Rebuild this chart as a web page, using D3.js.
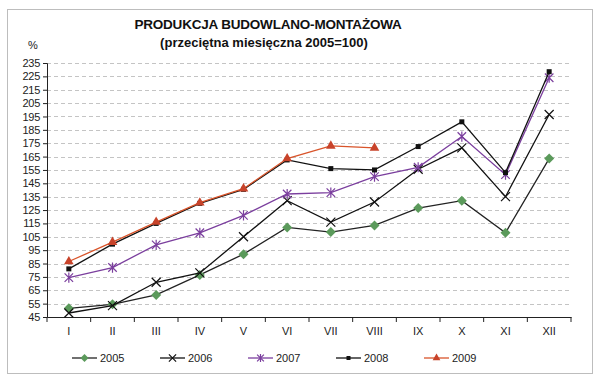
<!DOCTYPE html>
<head>
    <meta charset="utf-8">
    <style>
        body { margin: 0; background: #fff; }
        text { font-family: "Liberation Sans", Arial, sans-serif; }
    </style>
    <script src="https://d3js.org/d3.v7.min.js"></script>
</head>
<body>
<div id="chart"></div>
<script>
    // dane
    const months = ["I", "II", "III", "IV", "V", "VI", "VII", "VIII", "IX", "X", "XI", "XII"];
    const y2005 = [51.5, 54.5, 61.5, 76.5, 92, 112, 108.5, 113.5, 126.5, 132, 108, 163.5];
    const y2006 = [48, 53.5, 71, 78, 105, 132, 116, 131, 155.5, 171.5, 135, 196.5];
    const y2007 = [74.5, 82, 99, 108, 121, 137, 138, 150, 157, 180, 151.5, 224];
    const y2008 = [81, 99.5, 115, 130, 140.5, 162.5, 156, 155, 172.5, 191, 153, 228.5];
    const y2009 = [86.5, 101, 116, 130.5, 141, 163.5, 173, 171.5];
    const yTicks = d3.range(45, 236, 10);

    const series = [
        { name: "2005", values: y2005, line: "#222", color: "#5b9a5b", marker: "diamond" },
        { name: "2006", values: y2006, line: "#111", color: "#111", marker: "cross" },
        { name: "2007", values: y2007, line: "#7b3f9e", color: "#7b3f9e", marker: "star" },
        { name: "2008", values: y2008, line: "#111", color: "#111", marker: "square" },
        { name: "2009", values: y2009, line: "#d9542a", color: "#c8432a", marker: "triangle" }
    ];

    const width = 600, height = 379;
    const margin = { left: 47, right: 29, top: 63, bottom: 62 };

    const svg = d3.select("#chart").append("svg")
        .attr("width", width)
        .attr("height", height);

    svg.append("rect")
        .attr("x", 7.5).attr("y", 9.5)
        .attr("width", 585).attr("height", 364)
        .attr("fill", "#fff")
        .attr("stroke", "#bdbdbd");

    const x = d3.scaleBand()
        .domain(months)
        .range([margin.left, width - margin.right]);

    const y = d3.scaleLinear()
        .domain([45, 235])
        .range([height - margin.bottom, margin.top]);

    // siatka
    svg.append("g")
        .selectAll("line")
        .data(yTicks.slice(1))
        .join("line")
        .attr("x1", margin.left)
        .attr("x2", width - margin.right)
        .attr("y1", d => Math.round(y(d)) + 0.5)
        .attr("y2", d => Math.round(y(d)) + 0.5)
        .attr("stroke", "#c4c4c4")
        .attr("stroke-dasharray", "4,3");

    // oś Y
    const yAxis = svg.append("g")
        .attr("transform", `translate(${margin.left},0)`)
        .call(d3.axisLeft(y).tickValues(yTicks).tickSize(4).tickPadding(3));
    yAxis.select(".domain").attr("stroke", "#222");
    yAxis.selectAll(".tick line").attr("stroke", "#222");
    yAxis.selectAll("text")
        .style("font-family", "Liberation Sans, Arial, sans-serif")
        .style("font-size", "11px")
        .style("letter-spacing", "-0.3px")
        .attr("fill", "#222");

    // oś X
    const xAxis = svg.append("g")
        .attr("transform", `translate(0,${height - margin.bottom})`)
        .call(d3.axisBottom(x).tickSize(0).tickPadding(10));
    xAxis.select(".domain").attr("stroke", "#222");
    xAxis.selectAll("text")
        .style("font-family", "Liberation Sans, Arial, sans-serif")
        .style("font-size", "11px")
        .attr("fill", "#222");

    const bounds = months.map(m => x(m)).concat([width - margin.right]);
    xAxis.selectAll(".sep")
        .data(bounds)
        .join("line")
        .attr("class", "sep")
        .attr("x1", d => d).attr("x2", d => d)
        .attr("y1", 0).attr("y2", 5)
        .attr("stroke", "#222");

    // znaczniki
    function drawMarker(g, type, color, s) {
        if (type === "diamond") {
            g.append("path")
                .attr("d", `M0,${-s}L${s},0L0,${s}L${-s},0Z`)
                .attr("fill", color);
        } else if (type === "square") {
            const h = s * 0.5;
            g.append("rect")
                .attr("x", -h).attr("y", -h).attr("width", 2 * h).attr("height", 2 * h)
                .attr("fill", color);
        } else if (type === "triangle") {
            g.append("path")
                .attr("d", d3.symbol(d3.symbolTriangle, s * s * 1.6)())
                .attr("fill", color);
        } else if (type === "cross") {
            const r = s * 0.9;
            g.append("path")
                .attr("d", `M${-r},${-r}L${r},${r}M${-r},${r}L${r},${-r}`)
                .attr("stroke", color).attr("stroke-width", 1.2).attr("fill", "none");
        } else if (type === "star") {
            const r = s * 0.85;
            g.append("path")
                .attr("d", `M${-r},${-r}L${r},${r}M${-r},${r}L${r},${-r}M0,${-r * 1.2}L0,${r * 1.2}`)
                .attr("stroke", color).attr("stroke-width", 1.2).attr("fill", "none");
        }
    }

    const line = d3.line()
        .x((d, i) => x(months[i]) + x.bandwidth() / 2)
        .y(d => y(d));

    series.forEach(s => {
        const g = svg.append("g");
        g.append("path")
            .datum(s.values)
            .attr("d", line)
            .attr("fill", "none")
            .attr("stroke", s.line)
            .attr("stroke-width", 1.3);
        s.values.forEach((v, i) => {
            const m = g.append("g")
                .attr("transform", `translate(${x(months[i]) + x.bandwidth() / 2},${y(v)})`);
            drawMarker(m, s.marker, s.color, 5);
        });
    });

    // tytuł
    svg.append("text")
        .attr("x", 268).attr("y", 29)
        .attr("text-anchor", "middle")
        .style("font-size", "13.5px").style("font-weight", "bold")
        .style("letter-spacing", "-0.2px")
        .attr("fill", "#111")
        .text("PRODUKCJA BUDOWLANO-MONTAŻOWA");
    svg.append("text")
        .attr("x", 264).attr("y", 47)
        .attr("text-anchor", "middle")
        .style("font-size", "13px").style("font-weight", "bold")
        .attr("fill", "#111")
        .text("(przeciętna miesięczna 2005=100)");
    svg.append("text")
        .attr("x", 33).attr("y", 49)
        .attr("text-anchor", "middle")
        .style("font-size", "11px")
        .attr("fill", "#222")
        .text("%");

    // legenda
    const legend = svg.append("g").attr("transform", "translate(72,358)");
    series.forEach((s, i) => {
        const g = legend.append("g").attr("transform", `translate(${i * 88},0)`);
        g.append("line")
            .attr("x1", 0).attr("x2", 25)
            .attr("stroke", s.line).attr("stroke-width", 1.3);
        const m = g.append("g").attr("transform", "translate(12.5,0)");
        drawMarker(m, s.marker, s.color, 4);
        g.append("text")
            .attr("x", 28).attr("y", 4)
            .style("font-size", "11px")
            .attr("fill", "#222")
            .text(s.name);
    });
</script>
</body>
